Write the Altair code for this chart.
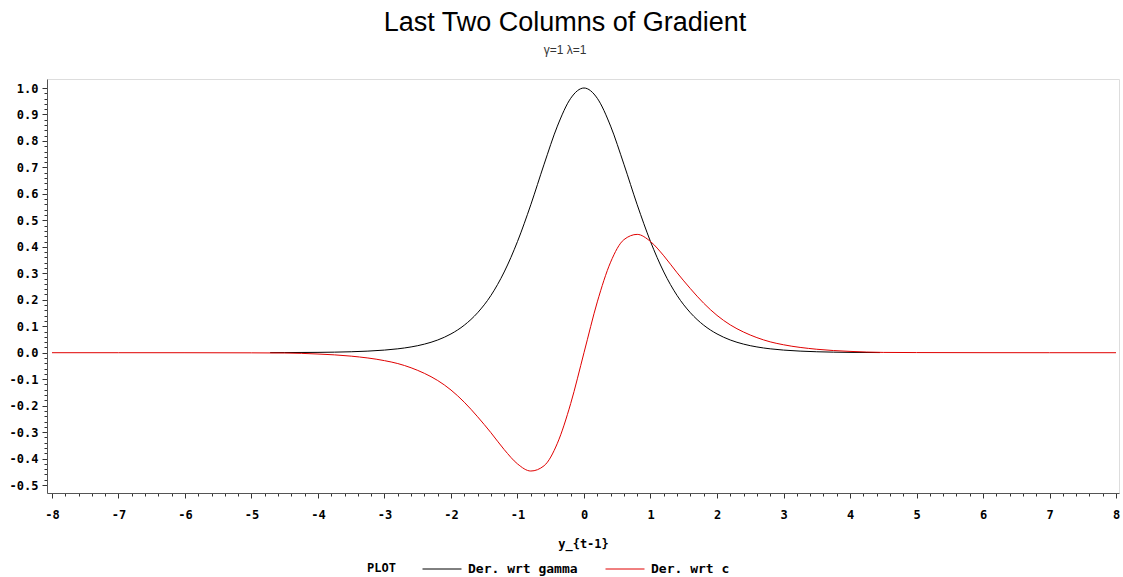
import altair as alt
import pandas as pd

# ---- data ----
x_gamma = [-4.72, -4.5, -4.0, -3.5, -3.0, -2.8, -2.6, -2.4, -2.2, -2.0, -1.8, -1.6, -1.4, -1.2,
           -1.0, -0.8, -0.6, -0.4, -0.2, 0.0, 0.2, 0.4, 0.6, 0.8, 1.0, 1.2, 1.4, 1.6, 1.8,
           2.0, 2.2, 2.4, 2.6, 2.8, 3.0, 3.5, 4.0, 4.45]
der_gamma = [0.0003, 0.0005, 0.0013, 0.0036, 0.0099, 0.0147, 0.0218, 0.0324, 0.048, 0.071,
             0.104, 0.151, 0.216, 0.305, 0.420, 0.559, 0.712, 0.856, 0.961, 1.000, 0.961,
             0.856, 0.712, 0.559, 0.420, 0.305, 0.216, 0.151, 0.104, 0.071, 0.048, 0.0324,
             0.0218, 0.0147, 0.0099, 0.0036, 0.0013, 0.0005]

x_c = [-8.0, -7.0, -6.0, -5.0, -4.5, -4.0, -3.5, -3.0, -2.8, -2.6, -2.4, -2.2, -2.0, -1.8,
       -1.6, -1.4, -1.2, -1.0, -0.8, -0.6, -0.4, -0.2, 0.0, 0.2, 0.4, 0.6, 0.8, 1.0, 1.2,
       1.4, 1.6, 1.8, 2.0, 2.2, 2.4, 2.6, 2.8, 3.0, 3.5, 4.0, 4.5, 5.0, 6.0, 7.0, 8.0]
der_c = [0.0, 0.0, -0.0001, -0.0005, -0.0011, -0.005, -0.013, -0.030, -0.041, -0.057, -0.078,
         -0.105, -0.141, -0.187, -0.242, -0.302, -0.366, -0.420, -0.447, -0.427, -0.342,
         -0.192, 0.0, 0.192, 0.342, 0.427, 0.447, 0.420, 0.366, 0.302, 0.242, 0.187, 0.141,
         0.105, 0.078, 0.057, 0.041, 0.030, 0.013, 0.005, 0.0011, 0.0005, 0.0001, 0.0, 0.0]

series_names = ["Der. wrt gamma", "Der. wrt c"]
series_colors = ["#000000", "#e00000"]

x_ticks = [round(-8 + 0.2 * i, 1) for i in range(81)]
y_ticks = [round(-0.5 + 0.02 * i, 2) for i in range(76)]

df = pd.concat([
    pd.DataFrame({"x": x_gamma, "y": der_gamma, "s": series_names[0]}),
    pd.DataFrame({"x": x_c, "y": der_c, "s": series_names[1]}),
])

lab_font = "DejaVu Sans Mono"

x_axis = alt.Axis(
    values=x_ticks,
    labelExpr="abs(datum.value - round(datum.value)) < 0.001 ? ((datum.value < 0 ? '-' : '') + format(abs(datum.value), 'd')) : ''",
    tickSize={"condition": {"test": "abs(datum.value - round(datum.value)) < 0.001", "value": 5}, "value": 3},
    labelOverlap=False, labelFlush=False, grid=False,
    labelFont=lab_font, labelFontWeight="bold", labelFontSize=12, labelColor="#000",
    labelPadding=11,
    title="y_{t-1}", titleFont=lab_font, titleFontWeight="bold", titleFontSize=12,
    titleColor="#000", titlePadding=18,
    domainColor="#555", tickColor="#333",
)
y_axis = alt.Axis(
    values=y_ticks,
    labelExpr="abs(datum.value*10 - round(datum.value*10)) < 0.001 ? ((datum.value < -0.001 ? '-' : '') + format(abs(datum.value), '.1f')) : ''",
    tickSize={"condition": {"test": "abs(datum.value*10 - round(datum.value*10)) < 0.001", "value": 5}, "value": 3},
    labelOverlap=False, labelFlush=False, grid=False,
    labelFont=lab_font, labelFontWeight="bold", labelFontSize=12, labelColor="#000",
    labelPadding=4, title=None,
    domainColor="#555", tickColor="#333",
)

chart = alt.Chart(df).mark_line(strokeWidth=1, interpolate="monotone").encode(
    x=alt.X("x:Q", scale=alt.Scale(domain=[-8.075, 8.045], nice=False, zero=False), axis=x_axis),
    y=alt.Y("y:Q", scale=alt.Scale(domain=[-0.53, 1.034], nice=False, zero=False), axis=y_axis),
    color=alt.Color("s:N", scale=alt.Scale(domain=series_names, range=series_colors),
                    legend=alt.Legend(
                        orient="none", legendX=320, legendY=470, direction="horizontal",
                        title="PLOT", titleOrient="left", titleAnchor="middle",
                        titleBaseline="top", titleFont=lab_font,
                        titleFontWeight="bold", titleFontSize=12, titleColor="#000",
                        titlePadding=26, labelFont=lab_font, labelFontWeight="bold",
                        labelFontSize=13, labelColor="#000", symbolType="stroke",
                        symbolSize=1521, symbolStrokeWidth=1, labelOffset=6,
                        columnPadding=25, padding=0)),
    detail="s:N",
    order="x:Q",
).properties(
    width=1072, height=414,
    autosize=alt.AutoSizeParams(type="none"),
    padding={"left": 47, "top": 79, "right": 4, "bottom": 84},
    title=alt.Title(
        text="Last Two Columns of Gradient", subtitle="γ=1 λ=1",
        font="Liberation Sans", fontSize=27, fontWeight="normal", color="#000",
        subtitleFont="Liberation Sans", subtitleFontSize=12, subtitleColor="#333",
        anchor="middle", dx=-18, offset=22, subtitlePadding=8,
    ),
).configure_view(stroke="#777", strokeWidth=1).configure(background="white")

chart.save("out.html", embed_options={"renderer": "svg", "actions": False})
